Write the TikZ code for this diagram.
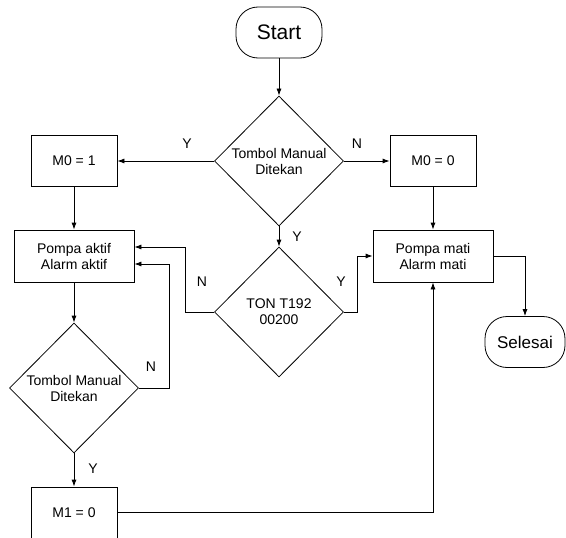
\documentclass[tikz,border=0pt]{standalone}
\usepackage{fontspec}
\setmainfont{Liberation Sans}
\usetikzlibrary{shapes.geometric,arrows.meta}
\begin{document}
\begin{tikzpicture}[x=1pt,y=-1pt, line width=0.8pt,
  txt/.style={font=\fontsize{14}{16}\selectfont},
  box/.style={draw, rectangle, minimum width=86pt, minimum height=51pt, inner sep=0pt, align=center, txt},
  wbox/.style={box, minimum width=120pt, minimum height=52pt},
  dec/.style={draw, diamond, minimum width=129pt, minimum height=130pt, inner sep=0pt, align=center, txt},
  term/.style={draw, rectangle, rounded corners=22pt, minimum height=51pt, inner sep=0pt},
  arr/.style={-{Latex[length=7pt,width=5pt]}},
  lbl/.style={txt, inner sep=0pt}]
\useasboundingbox (0,0) rectangle (566,538);
\node[term, minimum width=86pt, font=\fontsize{21}{24}\selectfont] (start) at (279,32.5) {Start};
\node[dec] (d1) at (279,161) {Tombol Manual\\Ditekan};
\node[box] (m01) at (74,161) {M0 = 1};
\node[box] (m00) at (433,161) {M0 = 0};
\node[wbox] (pa) at (74,256) {Pompa aktif\\Alarm aktif};
\node[wbox] (pm) at (433,256) {Pompa mati\\Alarm mati};
\node[dec] (ton) at (279,312) {TON T192\\00200};
\node[dec] (d3) at (74,388) {Tombol Manual\\Ditekan};
\node[box] (m1) at (74,512.5) {M1 = 0};
\node[term, minimum width=80pt, font=\fontsize{17}{20}\selectfont] (sel) at (525,342) {Selesai};

\draw[arr] (start) -- (d1);
\draw[arr] (d1.west) -- (m01.east);
\draw[arr] (d1.east) -- (m00.west);
\draw[arr] (d1.south) -- (ton.north);
\draw[arr] (m01) -- (pa);
\draw[arr] (m00) -- (pm);
\draw[arr] (ton.west) -- ++(-29,0) |- ([yshift=9pt]pa.east);
\draw[arr] (d3.east) -- ++(30,0) |- ([yshift=-8pt]pa.east);
\draw[arr] (ton.east) -- ++(13,0) |- (pm.west);
\draw[arr] (pm.east) -| (sel.north);
\draw[arr] (pa) -- (d3);
\draw[arr] (d3) -- (m1);
\draw[arr] (m1.east) -| (pm.south);

\node[lbl] (ly1) at (187,144) {Y};
\node[lbl] (ln1) at (357,144) {N};
\node[lbl] (ly2) at (297,237) {Y};
\node[lbl] (ln2) at (202,282) {N};
\node[lbl] (ly3) at (341,282) {Y};
\node[lbl] (ln3) at (151,367) {N};
\node[lbl] (ly4) at (93,469) {Y};
\end{tikzpicture}
\end{document}
